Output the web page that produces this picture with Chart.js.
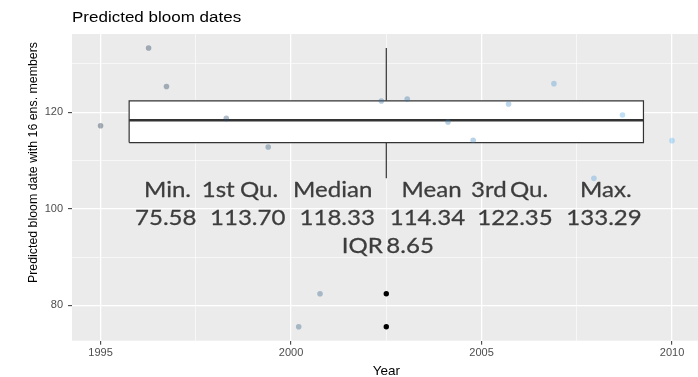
<!DOCTYPE html>
<html>
<head>
<meta charset="utf-8">
<script src="https://cdn.jsdelivr.net/npm/chart.js@4"></script>
<style>
  html, body { margin: 0; padding: 0; background: #ffffff; overflow: hidden; }
  #wrap { width: 720px; height: 377px; }
</style>
</head>
<body>
<div id="wrap"><canvas id="chart" width="720" height="377"></canvas></div>
<script>
// Ensemble members: jittered year position and predicted bloom day
const memberYear = [1995.0, 1996.26, 1996.73, 1998.3, 1999.4, 2000.2, 2000.76, 2002.37,
                    2003.05, 2004.12, 2004.78, 2005.71, 2006.9, 2007.95, 2008.7, 2010.0];
const memberBloom = [117.2, 133.29, 125.3, 118.71, 112.8, 75.58, 82.4, 122.3,
                     122.7, 117.95, 114.2, 121.7, 125.9, 106.3, 119.4, 114.1];

// Summary statistics printed over the panel
const statLabels = ['Min.', '1st Qu.', 'Median', 'Mean', '3rd Qu.', 'Max.'];
const statValues = [75.58, 113.70, 118.33, 114.34, 122.35, 133.29];
const iqrValue = 8.65;

// Axis ticks
const xTicks = [1995, 2000, 2005, 2010];
const yTicks = [80, 100, 120];

// Box geometry in data units
const boxCenter = 2002.5;
const boxWidth = 13.5;
const q1 = statValues[1], med = statValues[2], q3 = statValues[4];
const lowFence = q1 - 1.5 * (q3 - q1), highFence = q3 + 1.5 * (q3 - q1);
const inside = memberBloom.filter(v => v >= lowFence && v <= highFence);
const whiskerLow = Math.min(...inside), whiskerHigh = Math.max(...inside);
const outliers = memberBloom.filter(v => v < lowFence || v > highFence);

const boxL = boxCenter - boxWidth / 2, boxR = boxCenter + boxWidth / 2;

// ggplot-like continuous colour (dark navy -> light blue), translucent
function yearColour(x) {
  const t = Math.max(0, Math.min(1, (x - 1995) / 15));
  const r = Math.round(19 + (86 - 19) * t);
  const g = Math.round(43 + (177 - 43) * t);
  const b = Math.round(67 + (247 - 67) * t);
  return `rgba(${r},${g},${b},0.36)`;
}

const FONT = "'Liberation Sans', Arial, sans-serif";
const INK = '#333333';

function drawScaledText(ctx, str, x, y, font, color, sx, sy, align, stroke) {
  ctx.save();
  ctx.translate(x, y);
  ctx.scale(sx, sy);
  ctx.font = font;
  ctx.fillStyle = color;
  ctx.textAlign = align || 'left';
  ctx.textBaseline = 'alphabetic';
  ctx.fillText(str, 0, 0);
  if (stroke) {
    ctx.strokeStyle = color;
    ctx.lineWidth = stroke;
    ctx.lineJoin = 'round';
    ctx.strokeText(str, 0, 0);
  }
  ctx.restore();
}

const panelPlugin = {
  id: 'panel',
  beforeDraw(chart) {
    const { ctx, chartArea: a } = chart;
    ctx.save();
    ctx.fillStyle = '#ffffff';
    ctx.fillRect(0, 0, chart.width, chart.height);
    ctx.fillStyle = '#EBEBEB';
    ctx.fillRect(a.left, a.top, a.right - a.left, a.bottom - a.top);
    ctx.restore();
  },
  afterDraw(chart) {
    const { ctx, chartArea: a } = chart;
    // title
    drawScaledText(ctx, 'Predicted bloom dates', a.left, 21.7, `17px ${FONT}`, '#000000', 1, 0.88, 'left');
    // x axis title
    drawScaledText(ctx, 'Year', (a.left + a.right) / 2, 375, `13.5px ${FONT}`, '#000000', 1, 0.88, 'center');
    // y axis title
    ctx.save();
    ctx.font = `13.5px ${FONT}`;
    const yt = 'Predicted bloom date with 16 ens. members';
    const w = ctx.measureText(yt).width;
    ctx.translate(36.5, 162.5);
    ctx.rotate(-Math.PI / 2);
    ctx.scale(241 / w, 1);
    ctx.fillStyle = '#000000';
    ctx.textAlign = 'center';
    ctx.textBaseline = 'alphabetic';
    ctx.fillText(yt, 0, 0);
    ctx.restore();

    // summary printout
    const fam = "Lato, 'Open Sans', sans-serif";
    ctx.save();
    ctx.font = `100px ${fam}`;
    const ref = ctx.measureText(statValues[5].toFixed(2)).width;
    const size = 100 * 75.5 / ref;
    ctx.font = `${size}px ${fam}`;
    const cap = ctx.measureText('M').actualBoundingBoxAscent || size * 0.72;
    const sy = 16 / cap;
    ctx.restore();
    const f = `${size}px ${fam}`;
    const col = '#3d3d3d';
    const wt = 0.3;
    const headerX = [144, 201.7, 240, 293, 401.5, 471, 510, 580];
    const words = statLabels.join(' ').split(' ');
    words.forEach((wd, i) => drawScaledText(ctx, wd, headerX[i], 196.7, f, col, 1, sy, 'left', wt));
    const valueX = [135, 210, 299.5, 389.7, 477.3, 566.3];
    statValues.forEach((v, i) => drawScaledText(ctx, v.toFixed(2), valueX[i], 225, f, col, 1, sy, 'left', wt));
    drawScaledText(ctx, 'IQR', 341.7, 253.3, f, col, 1, sy, 'left', wt);
    drawScaledText(ctx, iqrValue.toFixed(2), 386.3, 253.3, f, col, 1, sy, 'left', wt);
  }
};

const memberPoints = memberYear.map((x, i) => ({ x, y: memberBloom[i] }));

new Chart(document.getElementById('chart'), {
  type: 'scatter',
  data: {
    datasets: [
      {
        label: 'members',
        data: memberPoints,
        pointRadius: 2.8,
        pointBorderWidth: 0,
        pointBackgroundColor: memberPoints.map(p => yearColour(p.x)),
        order: 0
      },
      {
        label: 'outliers',
        data: outliers.map(v => ({ x: boxCenter, y: v })),
        pointRadius: 2.7,
        pointBorderWidth: 0,
        pointBackgroundColor: '#000000',
        order: 1
      },
      {
        type: 'line',
        label: 'median',
        data: [{ x: boxL, y: med }, { x: boxR, y: med }],
        borderColor: INK,
        borderWidth: 2.4,
        pointRadius: 0,
        fill: false,
        order: 3
      },
      {
        type: 'line',
        label: 'box',
        data: [{ x: boxL, y: q1 }, { x: boxR, y: q1 }, { x: boxR, y: q3 }, { x: boxL, y: q3 }, { x: boxL, y: q1 }],
        borderColor: INK,
        borderWidth: 1.2,
        backgroundColor: '#ffffff',
        pointRadius: 0,
        fill: 'shape',
        tension: 0,
        order: 4
      },
      {
        type: 'line',
        label: 'upper whisker',
        data: [{ x: boxCenter, y: q3 }, { x: boxCenter, y: whiskerHigh }],
        borderColor: INK,
        borderWidth: 1.2,
        pointRadius: 0,
        fill: false,
        order: 5
      },
      {
        type: 'line',
        label: 'lower whisker',
        data: [{ x: boxCenter, y: q1 }, { x: boxCenter, y: whiskerLow }],
        borderColor: INK,
        borderWidth: 1.2,
        pointRadius: 0,
        fill: false,
        order: 5
      }
    ]
  },
  options: {
    responsive: false,
    devicePixelRatio: 1,
    animation: false,
    events: [],
    layout: { padding: { left: 0, top: 34, right: 19.4, bottom: 0 } },
    plugins: { legend: { display: false }, tooltip: { enabled: false }, title: { display: false } },
    scales: {
      x: {
        type: 'linear',
        min: 1994.25,
        max: 2010.75,
        afterFit(scale) { scale.height = 36.3; },
        border: { display: false },
        grid: {
          color: '#ffffff',
          lineWidth: c => (xTicks.includes(c.tick.value) ? 1.3 : 0.6),
          tickColor: c => (xTicks.includes(c.tick.value) ? INK : 'rgba(0,0,0,0)'),
          tickLength: 4,
          tickWidth: 1
        },
        ticks: {
          stepSize: 2.5,
          includeBounds: false,
          autoSkip: false,
          maxRotation: 0,
          padding: 2,
          color: '#4d4d4d',
          font: { family: FONT, size: 11 },
          callback: v => (xTicks.includes(v) ? String(v) : '')
        }
      },
      y: {
        type: 'linear',
        min: 72.69,
        max: 136.18,
        afterFit(scale) { scale.width = 72; },
        border: { display: false },
        grid: {
          color: '#ffffff',
          lineWidth: c => (yTicks.includes(c.tick.value) ? 1.3 : 0.6),
          tickColor: c => (yTicks.includes(c.tick.value) ? INK : 'rgba(0,0,0,0)'),
          tickLength: 4,
          tickWidth: 1
        },
        ticks: {
          stepSize: 10,
          includeBounds: false,
          autoSkip: false,
          padding: 5,
          color: '#4d4d4d',
          font: { family: FONT, size: 11 },
          callback: v => (yTicks.includes(v) ? String(v) : '')
        }
      }
    }
  },
  plugins: [panelPlugin]
});
</script>
</body>
</html>
